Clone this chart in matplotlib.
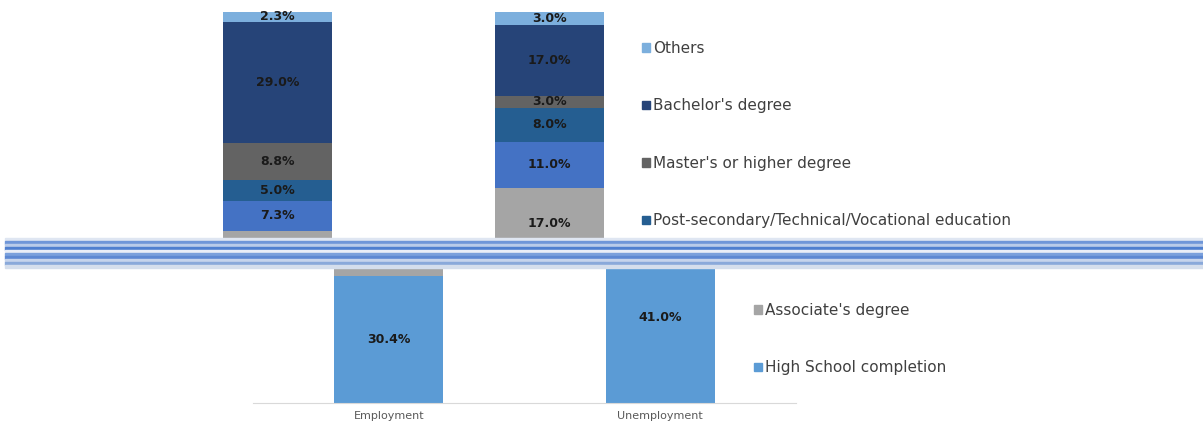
import matplotlib
matplotlib.use("Agg")
import matplotlib.pyplot as plt
from matplotlib.patches import Rectangle, Patch

categories = ["Employment", "Unemployment"]

# stacked from the bottom up
series_names = [
    "High School completion",
    "Associate's degree",
    "Some post-secondary education",
    "Post-secondary/Technical/Vocational education",
    "Master's or higher degree",
    "Bachelor's degree",
    "Others",
]
high_school = [30.4, 41.0]
associate = [17.2, 17.0]
some_post_secondary = [7.3, 11.0]
post_secondary = [5.0, 8.0]
masters = [8.8, 3.0]
bachelors = [29.0, 17.0]
others = [2.3, 3.0]

series_values = [high_school, associate, some_post_secondary, post_secondary,
                 masters, bachelors, others]
colors = ["#5B9BD5", "#A5A5A5", "#4472C4", "#255E91", "#636363", "#264478", "#7CAFDD"]

W, H = 1203, 425
fig = plt.figure(figsize=(W / 100, H / 100), dpi=100)
plt.rcParams["font.family"] = ["DejaVu Sans"]


def axes_px(x0, y0, x1, y1):
    # pixel box (top-left origin) -> figure axes
    return fig.add_axes([x0 / W, 1 - y1 / H, (x1 - x0) / W, (y1 - y0) / H])


px_per_pct = 4.18
shift = 111  # the upper part of the picture is offset to the left

# upper piece of the chart (offset left), lower piece (in place)
ax_top = axes_px(253 - shift, 0, 796 - shift, 238)
ax_top.set_ylim((430 - 238) / px_per_pct, 430 / px_per_pct)
ax_bot = axes_px(253, 268, 796, 403)
ax_bot.set_ylim(0, (403 - 268) / px_per_pct)

x = range(len(categories))
for ax in (ax_top, ax_bot):
    lo, hi = ax.get_ylim()
    bottom = [0, 0]
    for name, vals, col in zip(series_names, series_values, colors):
        ax.bar(x, vals, 0.4, bottom=bottom, color=col, label=name)
        for i, v in enumerate(vals):
            yc = bottom[i] + v / 2
            if lo + 1 < yc < hi - 1:
                ax.text(i, yc, f"{v:.1f}%", ha="center", va="center",
                        fontsize=9, fontweight="bold", color="#1a1a1a")
        bottom = [b + v for b, v in zip(bottom, vals)]
    ax.set_xlim(-0.5, 1.5)
    ax.set_yticks([])
    for s in ax.spines.values():
        s.set_visible(False)

ax_top.set_xticks([])
ax_bot.spines["bottom"].set_visible(True)
ax_bot.spines["bottom"].set_color("#D9D9D9")
ax_bot.set_xticks(list(x))
ax_bot.set_xticklabels(categories, fontsize=8, color="#595959")
ax_bot.tick_params(axis="x", length=0, pad=6)

# legend, reversed order, split between the two pieces
handles = [Patch(color=c) for c in colors]
leg_kw = dict(frameon=False, fontsize=11, handlelength=0.5, handleheight=0.5,
              handletextpad=0.25, labelspacing=2.78, borderpad=0, borderaxespad=0,
              labelcolor="#404040", loc="upper left", bbox_transform=fig.transFigure)
top_idx = [6, 5, 4, 3]
ax_top.legend([handles[i] for i in top_idx], [series_names[i] for i in top_idx],
              bbox_to_anchor=(642 / W, 1 - 41 / H), **leg_kw)
bot_idx = [1, 0]
ax_bot.legend([handles[i] for i in bot_idx], [series_names[i] for i in bot_idx],
              bbox_to_anchor=(754 / W, 1 - 303 / H), **leg_kw)

# scrambled band between the two pieces
band = ["#dfe6f2", "#6f96d8", "#b9cbe9", "#4f7fcf", "#e9eef7",
        "#7aa0dc", "#5d88d2", "#c6d4ec", "#8aa9da", "#d5deec"]
for k, c in enumerate(band):
    fig.patches.append(Rectangle((5 / W, 1 - (241 + 3 * k) / H), 1198 / W, 3 / H,
                                 transform=fig.transFigure, color=c, zorder=5))

fig.savefig("out.png", dpi=100)
